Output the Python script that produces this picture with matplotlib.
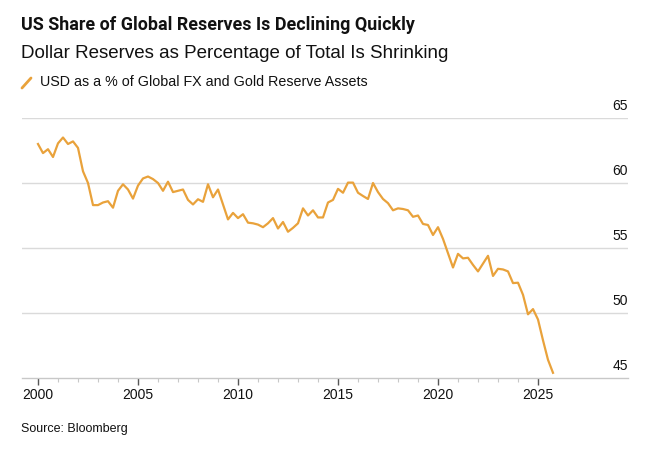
import numpy as np
import pandas as pd
import matplotlib
matplotlib.use('Agg')
import matplotlib.pyplot as plt
from matplotlib.lines import Line2D

plt.rcParams['font.family'] = ['Liberation Sans', 'DejaVu Sans']

# quarterly USD share of global FX + gold reserves (%), 2000Q1 .. 2025Q4
quarters = pd.period_range('2000Q1', '2025Q4', freq='Q')
usd_share = [
    63.0, 62.3, 62.6, 62.0,     # 2000
    63.05, 63.5, 63.0, 63.2,    # 2001
    62.7, 60.9, 60.0, 58.3,     # 2002
    58.3, 58.5, 58.6, 58.1,     # 2003
    59.4, 59.9, 59.5, 58.8,     # 2004
    59.8, 60.35, 60.5, 60.3,    # 2005
    60.0, 59.4, 60.1, 59.3,     # 2006
    59.4, 59.5, 58.7, 58.35,    # 2007
    58.75, 58.55, 59.9, 58.9,   # 2008
    59.5, 58.35, 57.2, 57.7,    # 2009
    57.3, 57.6, 56.95, 56.9,    # 2010
    56.8, 56.6, 56.9, 57.3,     # 2011
    56.5, 57.0, 56.25, 56.55,   # 2012
    56.9, 58.05, 57.5, 57.9,    # 2013
    57.35, 57.35, 58.5, 58.7,   # 2014
    59.55, 59.25, 60.03, 60.03, # 2015
    59.25, 59.0, 58.77, 60.0,   # 2016
    59.3, 58.77, 58.45, 57.9,   # 2017
    58.05, 58.0, 57.9, 57.4,    # 2018
    57.5, 56.85, 56.77, 56.0,   # 2019
    56.6, 55.7, 54.6, 53.5,     # 2020
    54.55, 54.2, 54.25, 53.7,   # 2021
    53.2, 53.8, 54.4, 52.85,    # 2022
    53.4, 53.35, 53.2, 52.3,    # 2023
    52.33, 51.4, 49.9, 50.3,    # 2024
    49.5, 47.9, 46.4, 45.4,     # 2025
]
x_years = [q.year + (q.quarter - 1) / 4 for q in quarters]

year_ticks = [2000, 2005, 2010, 2015, 2020, 2025]
minor_years = list(range(2001, 2025))
value_ticks = [45, 50, 55, 60, 65]

title = "US Share of Global Reserves Is Declining Quickly"
subtitle = "Dollar Reserves as Percentage of Total Is Shrinking"
legend_label = "USD as a % of Global FX and Gold Reserve Assets"
source = "Source: Bloomberg"

line_color = '#E9A23B'
text_color = '#111111'
grid_color = '#DADADA'

fig = plt.figure(figsize=(6.6, 4.5), dpi=100)
ax = fig.add_axes([22/660, 1 - 378/450, (628 - 22)/660, (378 - 118)/450])

ax.plot(x_years, usd_share, color=line_color, lw=1.6, solid_joinstyle='round', zorder=3)

ax.set_xlim(1999.2, 2029.5)
ax.set_ylim(45, 65)

# horizontal gridlines, labels sit above them on the right
for v in value_ticks[1:]:
    ax.axhline(v, color=grid_color, lw=1.0, zorder=1)
for v in value_ticks:
    ax.text(1.0, v + 0.35, str(v), transform=ax.get_yaxis_transform(),
            ha='right', va='bottom', fontsize=10, color=text_color, clip_on=False)
ax.set_yticks([])

for s in ['top', 'right', 'left']:
    ax.spines[s].set_visible(False)
ax.spines['bottom'].set_color('#C8C8C8')
ax.spines['bottom'].set_linewidth(1.0)

ax.set_xticks(year_ticks)
ax.set_xticklabels([str(y) for y in year_ticks], fontsize=10, color=text_color)
ax.set_xticks(minor_years, minor=True)
ax.tick_params(axis='x', which='major', length=5, width=1, color='#555555', pad=2)
ax.tick_params(axis='x', which='minor', length=3, width=0.8, color='#C8C8C8')

fig.text(21/660, 1 - 25/450, title, fontsize=12.9, fontweight='bold',
         family=['Roboto', 'Liberation Sans'],
         color=text_color, va='center', ha='left')
fig.text(21/660, 1 - 54/450, subtitle, fontsize=13.5,
         color=text_color, va='center', ha='left')
fig.text(40/660, 1 - 82/450, legend_label, fontsize=10.3,
         color=text_color, va='center', ha='left')
fig.add_artist(Line2D([22/660, 31/660], [1 - 88/450, 1 - 78/450],
                      color=line_color, lw=2, solid_capstyle='round'))
fig.text(21/660, 1 - 429/450, source, fontsize=9,
         color=text_color, va='center', ha='left')

fig.savefig('out.png', dpi=100, facecolor='white')
